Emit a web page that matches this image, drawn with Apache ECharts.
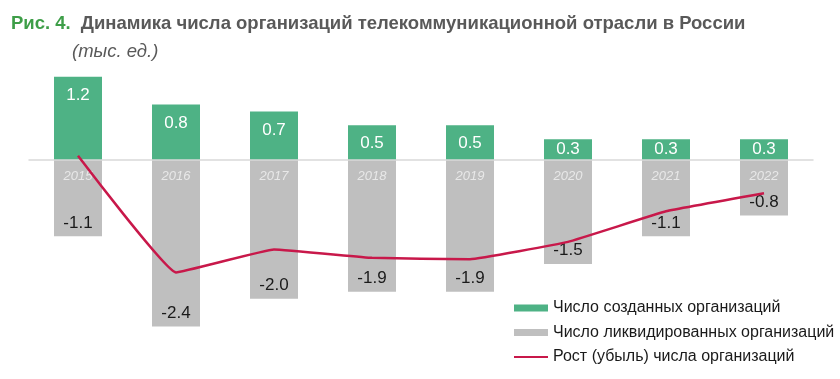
<!DOCTYPE html>
<html>
<head>
<meta charset="utf-8">
<script src="https://cdn.jsdelivr.net/npm/echarts@6/dist/echarts.min.js"></script>
<style>
html,body{margin:0;padding:0;background:#fff;}
#chart{width:840px;height:379px;}
</style>
</head>
<body>
<div id="chart"></div>
<script>
const years = ['2015','2016','2017','2018','2019','2020','2021','2022'];
const created = [1.2, 0.8, 0.7, 0.5, 0.5, 0.3, 0.3, 0.3];
const liquidated = [-1.1, -2.4, -2.0, -1.9, -1.9, -1.5, -1.1, -0.8];
const growth = [0.06, -1.62, -1.29, -1.41, -1.43, -1.18, -0.74, -0.48];
const seriesNames = ['Число созданных организаций', 'Число ликвидированных организаций', 'Рост (убыль) числа организаций'];

const chart = echarts.init(document.getElementById('chart'), null, {renderer: 'canvas'});
const font = '"Liberation Sans", Arial, sans-serif';
chart.setOption({
  animation: false,
  backgroundColor: '#ffffff',
  textStyle: {fontFamily: font},
  title: [
    {
      left: 11, top: 14, padding: 0,
      text: '{a|Рис. 4.}  {b|Динамика числа организаций телекоммуникационной отрасли в России}',
      textStyle: {
        rich: {
          a: {fontFamily: font, fontSize: 18.5, fontWeight: 'bold', color: '#3E9E48'},
          b: {fontFamily: font, fontSize: 18.5, fontWeight: 'bold', color: '#595959'}
        }
      }
    },
    {
      left: 72, top: 42, padding: 0,
      text: '(тыс. ед.)',
      textStyle: {fontFamily: font, fontSize: 18.5, fontStyle: 'italic', fontWeight: 'normal', color: '#595959'}
    }
  ],
  legend: {
    orient: 'vertical',
    left: 508, top: 294,
    itemWidth: 34, itemHeight: 7,
    itemGap: 6.5,
    textStyle: {fontFamily: font, fontSize: 16, color: '#1a1a1a', lineHeight: 18},
    data: [
      {name: seriesNames[0], icon: 'rect'},
      {name: seriesNames[1], icon: 'rect'},
      {name: seriesNames[2], itemStyle: {opacity: 0}}
    ]
  },
  grid: {left: 29, right: 27, top: 62.8, height: 305.4, outerBoundsMode: 'none', containLabel: false},
  xAxis: {
    type: 'category',
    data: years,
    z: 3,
    axisLine: {onZero: true, lineStyle: {color: '#D9D9D9', width: 1.5}},
    axisTick: {show: false},
    axisLabel: {show: false}
  },
  yAxis: {
    type: 'value',
    min: -3.0, max: 1.4,
    show: false,
    splitLine: {show: false}
  },
  series: [
    {
      name: seriesNames[0],
      type: 'bar',
      data: created.map(v => ({value: v, label: {position: v < 0.45 ? 'inside' : 'insideTop'}})),
      barWidth: 48,
      barGap: '-100%',
      z: 2,
      itemStyle: {color: '#4EB285'},
      label: {
        show: true, position: 'insideTop', distance: 10,
        color: '#ffffff', fontSize: 17, fontFamily: font,
        formatter: p => p.value.toFixed(1)
      }
    },
    {
      name: seriesNames[1],
      type: 'bar',
      data: liquidated,
      barWidth: 48,
      z: 2,
      itemStyle: {color: '#BFBFBF'},
      label: {
        show: true, position: 'insideBottom', distance: 5,
        color: '#1a1a1a', fontSize: 17, fontFamily: font,
        formatter: p => p.value.toFixed(1)
      }
    },
    {
      name: 'years',
      type: 'scatter',
      data: years.map(y => [y, 0]),
      symbolSize: 0,
      z: 3,
      silent: true,
      label: {
        show: true, position: 'bottom', distance: 10,
        color: '#F2F2F2', fontStyle: 'italic', fontSize: 13, fontFamily: font,
        formatter: p => p.value[0]
      }
    },
    {
      name: seriesNames[2],
      type: 'line',
      data: growth,
      z: 5,
      symbol: 'none',
      smooth: 0.08,
      lineStyle: {color: '#C8184A', width: 2.5},
      itemStyle: {color: '#C8184A'}
    }
  ]
});
</script>
</body>
</html>
